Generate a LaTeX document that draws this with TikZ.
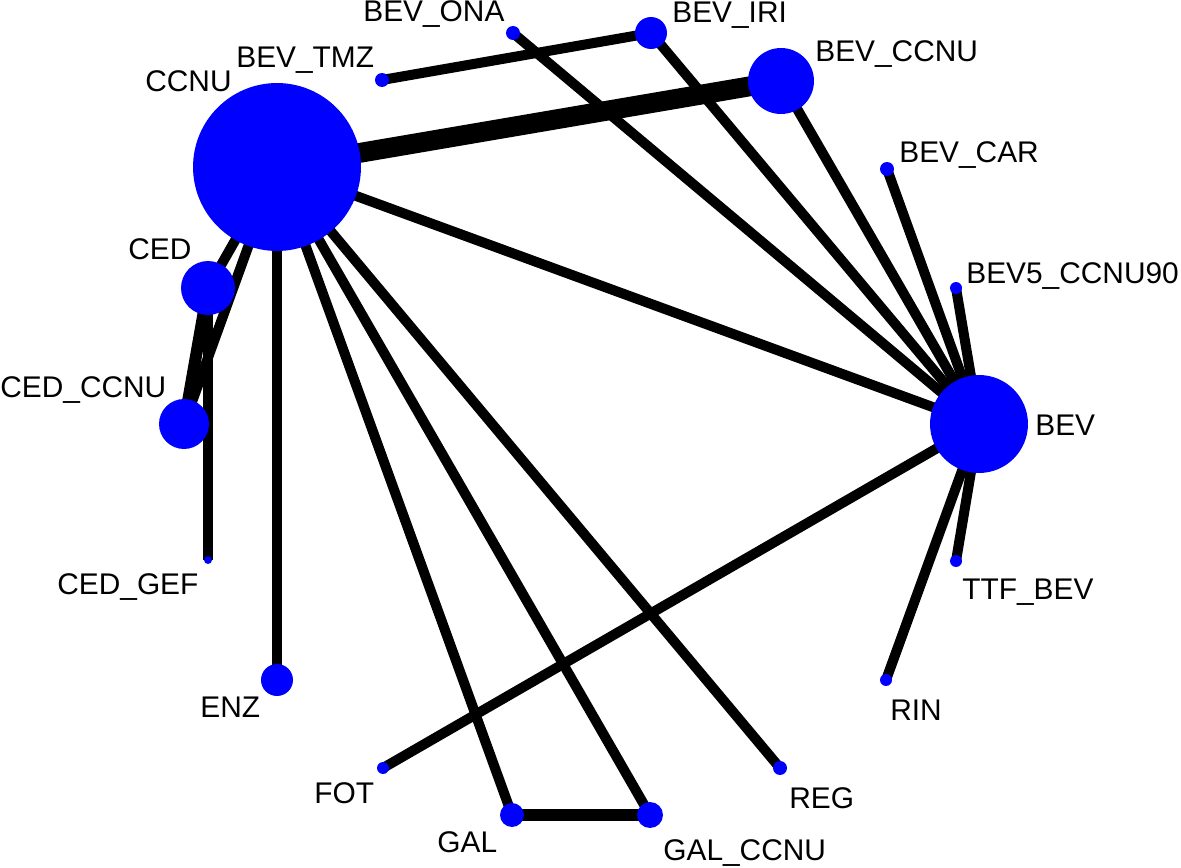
\documentclass[tikz,border=0pt]{standalone}
\usepackage{fontspec}
\setmainfont{Liberation Sans}
\usetikzlibrary{backgrounds}

\tikzset{
    trt/.style={circle, fill=blue, inner sep=0pt, minimum size=#1*0.04cm},
    edge/.style={line width=5.7pt},
    lbl/.style={anchor=base west, inner sep=0pt, font=\fontsize{17}{20}\selectfont}
}

\begin{document}
\begin{tikzpicture}[x=0.02cm, y=-0.02cm]
                \useasboundingbox (0,0) rectangle (1181,868);

                % draw the treatments
                \node[trt=84] (ccnu) at (277,167) {};
                \node[trt=49] (bev) at (979,424) {};
                \node[trt=33] (bev-ccnu) at (781,81) {};
                \node[trt=16] (bev-iri) at (651,33) {};
                \node[trt=7] (bev-ona) at (513,33) {};
                \node[trt=7] (bev-tmz) at (382,80) {};
                \node[trt=7] (bev-car) at (887,169) {};
                \node[trt=6] (bev5) at (956,288) {};
                \node[trt=6] (ttf-bev) at (956,561) {};
                \node[trt=6] (rin) at (886,680) {};
                \node[trt=7] (reg) at (780,768) {};
                \node[trt=13] (gal-ccnu) at (650,815) {};
                \node[trt=12] (gal) at (512,815) {};
                \node[trt=6] (fot) at (383,768) {};
                \node[trt=16] (enz) at (277,680) {};
                \node[trt=4] (ced-gef) at (208,560) {};
                \node[trt=25] (ced-ccnu) at (184,424) {};
                \node[trt=27] (ced) at (208,288) {};

                % draw the comparisons
                \begin{pgfonlayer}{background}
                \draw[line width=11.3pt] (ccnu.center) -- (bev-ccnu.center);
                \draw[edge] (ccnu.center) -- (bev.center);
                \draw[edge] (ccnu.center) -- (ced.center);
                \draw[edge] (ccnu.center) -- (ced-ccnu.center);
                \draw[edge] (ccnu.center) -- (enz.center);
                \draw[edge] (ccnu.center) -- (gal.center);
                \draw[edge] (ccnu.center) -- (gal-ccnu.center);
                \draw[edge] (ccnu.center) -- (reg.center);
                \draw[edge, line width=6.8pt] (ced.center) -- (ced-ccnu.center);
                \draw[edge] (ced.center) -- (ced-gef.center);
                \draw[edge, line width=6.8pt] (gal.center) -- (gal-ccnu.center);
                \draw[edge] (bev.center) -- (fot.center);
                \draw[edge] (bev.center) -- (bev-ona.center);
                \draw[edge] (bev.center) -- (bev-iri.center);
                \draw[edge] (bev.center) -- (bev-ccnu.center);
                \draw[edge] (bev.center) -- (bev-car.center);
                \draw[edge] (bev.center) -- (bev5.center);
                \draw[edge] (bev.center) -- (ttf-bev.center);
                \draw[edge] (bev.center) -- (rin.center);
                \draw[edge] (bev-tmz.center) -- (bev-iri.center);
                \end{pgfonlayer}

                % labels
                \node[lbl] (l-ccnu) at (145,92) {CCNU};
                \node[lbl] (l-bev-tmz) at (236,68) {BEV\_TMZ};
                \node[lbl] (l-bev-ona) at (363,22) {BEV\_ONA};
                \node[lbl] (l-bev-iri) at (672,23) {BEV\_IRI};
                \node[lbl] (l-bev-ccnu) at (815,62) {BEV\_CCNU};
                \node[lbl] (l-bev-car) at (899,163) {BEV\_CAR};
                \node[lbl] (l-bev5) at (966,284) {BEV5\_CCNU90};
                \node[lbl] (l-bev) at (1035,436) {BEV};
                \node[lbl] (l-ttf-bev) at (962,599) {TTF\_BEV};
                \node[lbl] (l-rin) at (890,720) {RIN};
                \node[lbl] (l-reg) at (789,808) {REG};
                \node[lbl] (l-gal-ccnu) at (663,860) {GAL\_CCNU};
                \node[lbl] (l-gal) at (437,852) {GAL};
                \node[lbl] (l-fot) at (314,803) {FOT};
                \node[lbl] (l-enz) at (200,717) {ENZ};
                \node[lbl] (l-ced-gef) at (57,594) {CED\_GEF};
                \node[lbl] (l-ced-ccnu) at (0,398) {CED\_CCNU};
                \node[lbl] (l-ced) at (128,260) {CED};

            \end{tikzpicture}
\end{document}
